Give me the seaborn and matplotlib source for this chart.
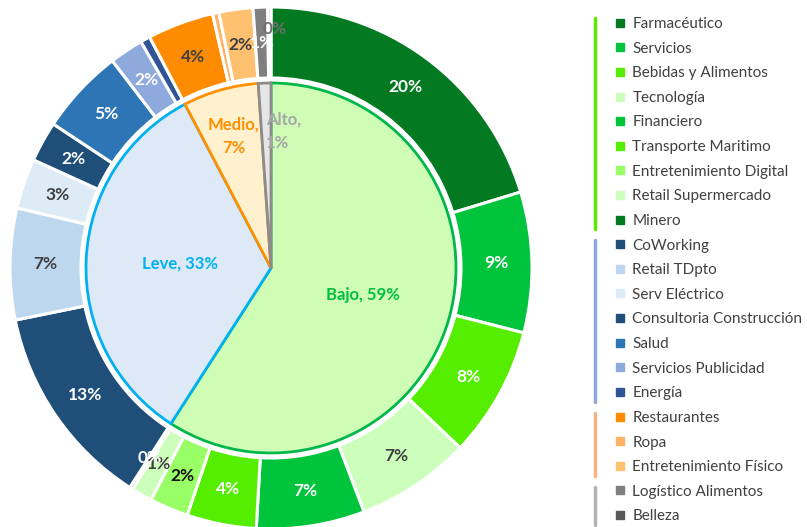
import numpy as np
import matplotlib
matplotlib.use('Agg')
import matplotlib.pyplot as plt
import seaborn as sns
from matplotlib.lines import Line2D

# data (share of total, %)
sectores = ["Farmacéutico", "Servicios", "Bebidas y Alimentos", "Tecnología", "Financiero",
            "Transporte Maritimo", "Entretenimiento Digital", "Retail Supermercado", "Minero",
            "CoWorking", "Retail TDpto", "Serv Eléctrico", "Consultoria Construcción", "Salud",
            "Servicios Publicidad", "Energía",
            "Restaurantes", "Ropa", "Entretenimiento Físico",
            "Logístico Alimentos", "Belleza"]
participacion = [20.3, 8.7, 8.1, 7.1, 6.7, 4.3, 2.4, 1.3, 0.2,
                 12.7, 6.9, 3.1, 2.5, 5.3, 2.1, 0.6,
                 4.1, 0.4, 2.1,
                 0.9, 0.2]
etiquetas_ext = ["20%", "9%", "8%", "7%", "7%", "4%", "2%", "1%", "0%",
                 "13%", "7%", "3%", "2%", "5%", "2%", "",
                 "4%", "", "2%",
                 "1%", "0%"]
niveles = ["Bajo", "Leve", "Medio", "Alto"]
grupo_tam = [9, 7, 3, 2]  # number of sectors in each level
valores_niv = []
i0 = 0
for n in grupo_tam:
    valores_niv.append(sum(participacion[i0:i0 + n]))
    i0 += n
etiquetas_niv = ["Bajo, 59%", "Leve, 33%", "Medio,\n7%", "Alto,\n1%"]

# colours
col_ext = ["#037A22", "#00C43C", "#55EE00", "#CCFFBB", "#00C43C", "#55EE00", "#99FF66", "#CCFFBB", "#037A22",
           "#1F4E79", "#BDD7EE", "#DDEBF7", "#1F4E79", "#2E75B6", "#8EA9DB", "#2F5597",
           "#FF8C00", "#FFB366", "#FFC070",
           "#7F7F7F", "#595959"]
txt_ext = ["white", "white", "white", "#404040", "white", "white", "#111111", "#404040", "white",
           "white", "#404040", "#404040", "white", "white", "white", "white",
           "#404040", "#404040", "#404040",
           "white", "#6E6E6E"]
fill_niv = ["#CFFDB6", "#DDE9F6", "#FFF1CE", "#E6E6E6"]
edge_niv = ["#00B84A", "#00B0F0", "#FF9000", "#8C8C8C"]
txt_niv = ["#00C040", "#00B0F0", "#FF9000", "#A6A6A6"]
barra_niv = ["#55EE00", "#8EA9DB", "#F8B183", "#B3B3B3"]

sns.set_theme(style="white")
plt.rcParams['font.family'] = ['Lato', 'DejaVu Sans']

fig = plt.figure(figsize=(8.07, 5.27), dpi=100)
R = 261.0
cx, cy = 271.0, 527 - 268.0
ax = fig.add_axes([(cx - R) / 807, (cy - R) / 527, 2 * R / 807, 2 * R / 527])
ax.set_aspect('equal')
ax.axis('off')

r_in = 185 / R
r_ring = 190 / R

# outer ring
w_ext, _ = ax.pie(participacion, radius=1, colors=col_ext, startangle=90, counterclock=False,
                  wedgeprops=dict(width=1 - r_ring, edgecolor='white', linewidth=2.2))
# inner pie
w_in, _ = ax.pie(valores_niv, radius=r_in, colors=fill_niv, startangle=90, counterclock=False,
                 wedgeprops=dict(linewidth=2))
for w, ec in zip(w_in, edge_niv):
    w.set_edgecolor(ec)
ax.set_xlim(-1, 1)
ax.set_ylim(-1, 1)

# outer labels (the tiny top slice label sits a bit further out, as in Excel)
tot = sum(participacion)
cum = np.cumsum([0] + participacion)
r_mid = (1 + r_ring) / 2
for k, lab in enumerate(etiquetas_ext):
    if not lab:
        continue
    frac = (cum[k] + cum[k + 1]) / 2 / tot
    ang = np.deg2rad(90 - 360 * frac)
    rr = r_mid + 0.05 if k == len(etiquetas_ext) - 1 else r_mid
    dx = 0.02 if k == len(etiquetas_ext) - 1 else 0
    ax.text(rr * np.cos(ang) + dx, rr * np.sin(ang), lab, ha='center', va='center',
            fontsize=12.5, fontweight='bold', color=txt_ext[k])

# inner labels
cum_n = np.cumsum([0] + valores_niv)
r_lab = [0.52, 0.49, 0.74, 0.74]
ha_lab = ['center', 'center', 'center', 'left']
for k, lab in enumerate(etiquetas_niv):
    frac = (cum_n[k] + cum_n[k + 1]) / 2 / tot
    ang = np.deg2rad(90 - 360 * frac)
    x = r_lab[k] * r_in * np.cos(ang)
    y = r_lab[k] * r_in * np.sin(ang)
    ax.text(x, y, lab, ha=ha_lab[k], va='center', fontsize=12, fontweight='bold',
            color=txt_niv[k], linespacing=1.6)

# legend
handles = [Line2D([], [], marker='s', ls='', color=c, markersize=5.5) for c in col_ext]
leg = fig.legend(handles, sectores, loc='upper left', bbox_to_anchor=(614 / 807, 1 - 17 / 527),
                 frameon=False, fontsize=11, handlelength=0.8, handletextpad=0.4,
                 labelspacing=0.695, borderaxespad=0, borderpad=0)
for t in leg.get_texts():
    t.set_color('#404040')

# vertical bars grouping the legend entries by level
fila0, paso = 23, 24.7
i0 = 0
for n, c in zip(grupo_tam, barra_niv):
    y_top = fila0 + paso * i0 - 5
    y_bot = fila0 + paso * (i0 + n - 1) + 8
    fig.add_artist(Line2D([595 / 807, 595 / 807], [1 - y_top / 527, 1 - y_bot / 527],
                          transform=fig.transFigure, color=c, lw=2.5))
    i0 += n

fig.savefig("out.png", dpi=100)
